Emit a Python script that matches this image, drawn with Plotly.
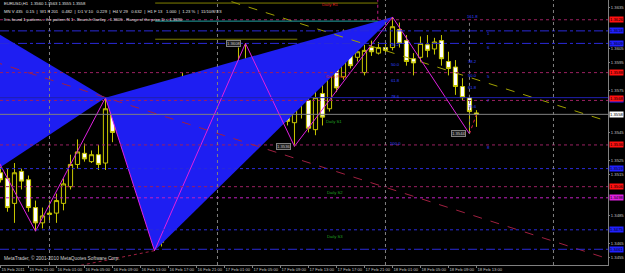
import plotly.graph_objects as go

# ---------------- data ----------------
bar_index = list(range(69))
opens = [1.3516,1.3512,1.3494,1.3517,1.3511,1.3491,1.3480,1.3486,1.3487,1.3494,
         1.3506,1.3522,1.3530,1.3524,1.3529,1.3523,1.3561,1.3544,1.3560,1.3550,
         1.3522,1.3517,1.3513,1.3466,1.3480,1.3514,1.3546,1.3545,1.3563,1.3565,
         1.3569,1.3564,1.3561,1.3574,1.3574,1.3593,1.3592,1.3585,1.3578,1.3570,
         1.3554,1.3565,1.3552,1.3566,1.3568,1.3547,1.3573,1.3562,1.3599,1.3585,
         1.3610,1.3599,1.3588,1.3606,1.3602,1.3606,1.3606,1.3619,1.3611,1.3598,
         1.3599,1.3608,1.3605,1.3611,1.3596,1.3592,1.3578,1.3570,1.3559]
highs = [1.3522,1.3519,1.3523,1.3519,1.3514,1.3496,1.3491,1.3496,1.3501,1.3512,
         1.3529,1.3540,1.3537,1.3532,1.3536,1.3570,1.3568,1.3565,1.3565,1.3552,
         1.3525,1.3525,1.3516,1.3487,1.3522,1.3548,1.3588,1.3583,1.3581,1.3573,
         1.3573,1.3568,1.3579,1.3579,1.3606,1.3609,1.3597,1.3590,1.3583,1.3575,
         1.3568,1.3568,1.3572,1.3575,1.3574,1.3583,1.3579,1.3597,1.3604,1.3619,
         1.3619,1.3606,1.3608,1.3611,1.3610,1.3611,1.3628,1.3624,1.3615,1.3602,
         1.3614,1.3615,1.3613,1.3615,1.3603,1.3597,1.3584,1.3572,1.3561]
lows = [1.3509,1.3488,1.3480,1.3504,1.3488,1.3474,1.3476,1.3480,1.3480,1.3489,
        1.3504,1.3519,1.3524,1.3523,1.3518,1.3518,1.3538,1.3541,1.3548,1.3518,
        1.3512,1.3509,1.3460,1.3463,1.3478,1.3512,1.3543,1.3543,1.3552,1.3560,
        1.3561,1.3555,1.3554,1.3568,1.3568,1.3583,1.3584,1.3572,1.3568,1.3550,
        1.3550,1.3550,1.3535,1.3555,1.3545,1.3543,1.3550,1.3560,1.3574,1.3583,
        1.3591,1.3596,1.3586,1.3600,1.3601,1.3602,1.3604,1.3606,1.3593,1.3586,
        1.3596,1.3599,1.3601,1.3593,1.3586,1.3572,1.3568,1.3544,1.3549]
closes = [1.3511,1.3491,1.3516,1.3510,1.3491,1.3480,1.3485,1.3487,1.3496,1.3508,
          1.3522,1.3531,1.3526,1.3529,1.3522,1.3562,1.3545,1.3560,1.3550,1.3520,
          1.3518,1.3511,1.3468,1.3480,1.3516,1.3545,1.3545,1.3560,1.3565,1.3568,
          1.3567,1.3559,1.3573,1.3573,1.3595,1.3591,1.3587,1.3579,1.3570,1.3555,
          1.3565,1.3553,1.3565,1.3570,1.3548,1.3570,1.3556,1.3588,1.3577,1.3609,
          1.3593,1.3603,1.3604,1.3603,1.3606,1.3604,1.3621,1.3609,1.3596,1.3595,
          1.3609,1.3604,1.3610,1.3598,1.3591,1.3578,1.3570,1.3560,1.3558]

# zigzag pivots (bar index, price)
zz_idx = [-1, 5, 15, 22, 35, 42, 56, 67]
zz_price = [1.3531, 1.3474, 1.3570, 1.3460, 1.3609, 1.3535, 1.3628, 1.3544]
zz_last_idx = [67, 68]
zz_last_price = [1.3544, 1.3558]

# harmonic triangles
tri1_idx = [-3, 15, -3]
tri1_price = [1.3624, 1.3570, 1.3510]
tri2_idx = [15, 22, 56]
tri2_price = [1.3570, 1.3460, 1.3628]

# horizontal levels: price, colour, dash, box colour
levels = [
    (1.3626, "#9a2060", "dot", "#ff1010"),
    (1.3618, "#2a2ad8", "dashdot", "#2020ff"),
    (1.3609, "#2a2ad8", "dashdot", "#2020ff"),
    (1.3588, "#9a2060", "dot", "#ff1010"),
    (1.3570, "#2020b0", "solid", "#2020ff"),
    (1.3568, "#9a2060", "dot", "#ff1010"),
    (1.3558, "#808080", "solid", "#ffffff"),
    (1.3536, "#9a2060", "dot", "#ff1010"),
    (1.3519, "#2a2ad8", "dot", "#2020ff"),
    (1.3506, "#9a2060", "dot", "#ff1010"),
    (1.3498, "#c020c0", "dot", "#e020e0"),
    (1.3475, "#2a2ad8", "dot", "#2020ff"),
    (1.3461, "#2a2ad8", "dashdot", "#2020ff"),
]

# fibonacci labels (bar index, price, text)
fib_labels = [(56.5, 1.3608, "38.2"), (56.5, 1.3594, "50.0"), (56.5, 1.3582, "61.8"),
              (56.5, 1.3571, "78.6"), (56.5, 1.3537, "100.0"),
              (67.5, 1.3628, "161.8"), (67.5, 1.3596, "38.2"), (67.5, 1.3586, "50.0"),
              (67.5, 1.3577, "61.8"), (67.5, 1.3564, "78.6"),
              (69.7, 1.3616, "1"), (69.7, 1.3606, "6"), (69.7, 1.3585, "5"),
              (69.7, 1.3568, "7"), (69.7, 1.3534, "8")]

# diagonal lines
red_diag_idx = [-1, 90]
red_diag_price = [1.3596, 1.3449]
olive_diag_idx = [33, 88]
olive_diag_price = [1.3639, 1.3551]
red_c_idx = [22, 10]
red_c_price = [1.3460, 1.3448]

day_sep_idx = [7, 31, 55, 79]

tick_idx = list(range(0, 69, 4))
tick_text = ["15 Feb 2011", "15 Feb 21:00", "16 Feb 01:00", "16 Feb 05:00", "16 Feb 09:00",
             "16 Feb 13:00", "16 Feb 17:00", "16 Feb 21:00", "17 Feb 01:00", "17 Feb 05:00",
             "17 Feb 09:00", "17 Feb 13:00", "17 Feb 17:00", "17 Feb 21:00", "18 Feb 01:00",
             "18 Feb 05:00", "18 Feb 09:00", "18 Feb 13:00"]
price_ticks = [round(1.3635 - 0.001 * k, 4) for k in range(19)]

# ---------------- figure ----------------
FONT = "Liberation Sans"
SMALL = 4.2
Y0, Y1 = 1.34497, 1.36402
H = 265.0
def to_px(p):
    return (Y1 - p) / (Y1 - Y0) * H

box_px = [to_px(p) for p, *_ in levels]
shown_ticks = [t for t in price_ticks if min(abs(to_px(t) - b) for b in box_px) > 5.0]

fig = go.Figure()

blue = "#1e1ef2"
fig.add_trace(go.Scatter(x=tri1_idx + [tri1_idx[0]], y=tri1_price + [tri1_price[0]],
                         fill="toself", fillcolor=blue, line=dict(width=0), mode="lines",
                         hoverinfo="skip", showlegend=False))
fig.add_trace(go.Scatter(x=tri2_idx + [tri2_idx[0]], y=tri2_price + [tri2_price[0]],
                         fill="toself", fillcolor=blue, line=dict(width=0), mode="lines",
                         hoverinfo="skip", showlegend=False))

shapes = []
for p, col, dash, _ in levels:
    shapes.append(dict(type="line", xref="paper", x0=0, x1=1, yref="y", y0=p, y1=p,
                       line=dict(color=col, width=1, dash=dash), layer="above"))
for d in day_sep_idx:
    shapes.append(dict(type="line", xref="x", x0=d, x1=d, yref="paper", y0=0, y1=1,
                       line=dict(color="#808080", width=1, dash="dot"), layer="above"))
shapes.append(dict(type="line", xref="x", x0=22.1, x1=53.9, yref="y", y0=1.3638, y1=1.3638,
                   line=dict(color="#808000", width=1)))
shapes.append(dict(type="line", xref="x", x0=22.1, x1=42.4, yref="y", y0=1.3612, y1=1.3612,
                   line=dict(color="#808000", width=1)))
shapes.append(dict(type="line", xref="x", x0=22.1, x1=53.9, yref="y", y0=1.3625, y1=1.3625,
                   line=dict(color="#20a0a0", width=1)))
shapes.append(dict(type="line", xref="x", x0=53.9, x1=53.9, yref="y", y0=1.3626, y1=1.3641,
                   line=dict(color="#c02080", width=1, dash="dot")))
shapes.append(dict(type="line", xref="x", x0=67, x1=67, yref="y", y0=1.3544, y1=1.3626,
                   line=dict(color="#808080", width=1, dash="dot")))

fig.add_trace(go.Scatter(x=red_diag_idx, y=red_diag_price, mode="lines",
                         line=dict(color="#a02040", width=1, dash="dash"),
                         hoverinfo="skip", showlegend=False))
fig.add_trace(go.Scatter(x=olive_diag_idx, y=olive_diag_price, mode="lines",
                         line=dict(color="#a0a000", width=1, dash="dash"),
                         hoverinfo="skip", showlegend=False))
fig.add_trace(go.Scatter(x=red_c_idx, y=red_c_price, mode="lines",
                         line=dict(color="#a02040", width=1, dash="dot"),
                         hoverinfo="skip", showlegend=False))

cndl = "#c8c800"
fig.add_trace(go.Candlestick(x=bar_index, open=opens, high=highs, low=lows, close=closes,
                             increasing=dict(fillcolor="#000000", line=dict(color=cndl, width=1)),
                             decreasing=dict(fillcolor="#ffffff", line=dict(color=cndl, width=1)),
                             whiskerwidth=0, showlegend=False, hoverinfo="skip"))

fig.add_trace(go.Scatter(x=zz_idx, y=zz_price, mode="lines",
                         line=dict(color="#e020e0", width=1), hoverinfo="skip", showlegend=False))
fig.add_trace(go.Scatter(x=zz_last_idx, y=zz_last_price, mode="lines",
                         line=dict(color="#e02040", width=1, dash="dot"),
                         hoverinfo="skip", showlegend=False))

ann = []
def ytop(px):
    return 1 - px / H

NB = "\u00a0"
def sp(n):
    return NB * n
line2 = (f"MN V 435{sp(3)}0.15{sp(2)}|{sp(2)}W1 F 201{sp(3)}0.482{sp(2)}|{sp(2)}D1 V 10{sp(3)}0.229"
         f"{sp(2)}|{sp(2)}H4 V 29{sp(3)}0.632{sp(2)}|{sp(2)}H1 F 13{sp(3)}1.000{sp(2)}|{sp(2)}1.23 %"
         f"{sp(2)}|{sp(2)}11/10/8/7/3")
hdr = [
    ("EURUSD,H1" + sp(2) + "1.3560 1.3563 1.3555 1.3558", 4),
    (line2, 12),
    ("It is found 1 patterns - the pattern N 1 - Bearish Gartley - 1.3605 - Range of the price D < 1.3690", 20),
]
for t, py in hdr:
    ann.append(dict(xref="paper", yref="paper", x=0.003, y=ytop(py), text=t, showarrow=False,
                    xanchor="left", yanchor="middle",
                    font=dict(family=FONT, size=SMALL, color="#e0e0e0")))
ann.append(dict(xref="paper", yref="paper", x=0.003, y=ytop(258), showarrow=False,
                text="MetaTrader, © 2001-2010 MetaQuotes Software Corp.", xanchor="left",
                yanchor="middle", font=dict(family=FONT, size=4.8, color="#d0d0d0")))

piv = [("Daily R1", 47.1, 1.3637, "#e02020"), ("Daily Pivot", 48.0, 1.3585, "#e02020"),
       ("Daily S1", 47.6, 1.3553, "#20a020"), ("Daily S2", 47.8, 1.3502, "#20a020"),
       ("Daily S3", 47.8, 1.3470, "#20a020")]
for t, xi, p, c in piv:
    ann.append(dict(x=xi, y=p, text=t, showarrow=False, font=dict(family=FONT, size=SMALL, color=c)))

for t, xi, p in [("1.3608", 33.3, 1.3609), ("1.3536", 40.4, 1.3535), ("1.3544", 65.4, 1.3544)]:
    ann.append(dict(x=xi, y=p, text=t, showarrow=False, bgcolor="#202020",
                    bordercolor="#808080", borderwidth=1, borderpad=0,
                    font=dict(family=FONT, size=SMALL, color="#c0c0c0")))

for xi, p, t in fib_labels:
    ann.append(dict(x=xi, y=p, text=t, showarrow=False,
                    font=dict(family=FONT, size=SMALL, color="#3040ff")))

# price boxes on the right scale; the two nearly equal levels are nudged apart
nudges = {1.3570: -2, 1.3568: 2}
for p, col, dash, box in levels:
    ann.append(dict(xref="paper", x=1, xanchor="left", xshift=1, y=p, yref="y",
                    yshift=nudges.get(p, 0),
                    text=f"{p:.4f}", showarrow=False, bgcolor=box, borderpad=0,
                    font=dict(family=FONT, size=SMALL, color="#000000")))

fig.update_layout(
    width=625, height=273,
    margin=dict(l=0, r=17, t=0, b=8, autoexpand=False),
    paper_bgcolor="#000000", plot_bgcolor="#000000",
    boxgap=0.4, boxgroupgap=0.0,
    shapes=shapes, annotations=ann, showlegend=False,
    xaxis=dict(range=[-0.07, 86.79], showgrid=False, zeroline=False, rangeslider=dict(visible=False),
               tickvals=tick_idx, ticktext=tick_text, ticklabelposition="outside right",
               tickangle=0, automargin=False,
               tickfont=dict(family=FONT, size=SMALL, color="#c0c0c0"), ticks="outside", ticklen=2,
               tickcolor="#808080", showline=True, linecolor="#808080", linewidth=1),
    yaxis=dict(range=[Y0, Y1], side="right", showgrid=False, zeroline=False, automargin=False,
               tickvals=shown_ticks, ticktext=[f"{v:.4f}" for v in shown_ticks],
               tickfont=dict(family=FONT, size=SMALL, color="#c0c0c0"), ticks="outside", ticklen=1,
               tickcolor="#808080", showline=True, linecolor="#808080", linewidth=1),
)

fig.write_html("out.html")
